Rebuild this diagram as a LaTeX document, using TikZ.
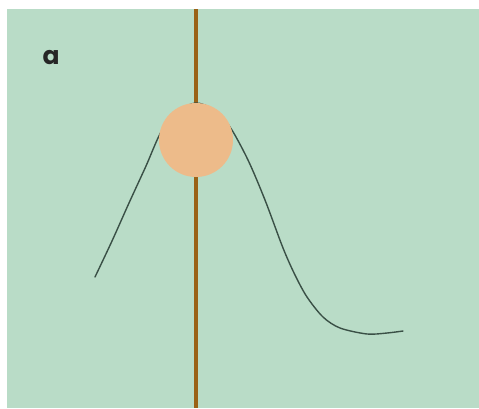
\documentclass[tikz,border=0pt]{standalone}
\usepackage{fontspec}
\newfontfamily\labelfont{Poppins}
\definecolor{bggreen}{RGB}{185,220,199}
\definecolor{rodbrown}{RGB}{154,98,22}
\definecolor{ballpeach}{RGB}{237,187,138}
\definecolor{curvegray}{RGB}{58,80,70}
\tikzset{
  rod/.style={draw=rodbrown, line width=3.6pt},
  wave/.style={draw=curvegray, line width=1.4pt, line cap=round},
  ball/.style={circle, fill=ballpeach, draw=none, minimum size=74pt, inner sep=0pt},
  lbl/.style={font=\labelfont\bfseries\fontsize{25}{30}\selectfont, text=black!85, inner sep=0pt}
}
\begin{document}
\begin{tikzpicture}[x=1pt,y=-1pt]
\useasboundingbox (0,0) rectangle (479,408);
\fill[bggreen] (7,9) rectangle (479,408);
\coordinate (rodtop) at (196,9);
\coordinate (rodbot) at (196,408);
\draw[rod] (rodtop) -- (rodbot);
\draw[wave] plot[smooth] coordinates {(95,277) (112,241) (129,203) (146,166) (161,132) (177,112) (196,103) (214,110) (230,127) (248,160) (265,200) (283,248) (295,275) (307,297) (323,317) (340,328) (367,334) (387,333) (403,331)};
\node[ball] (ball) at (196,140) {};
\node[lbl] (a) at (51,58) {a};
\end{tikzpicture}
\end{document}
